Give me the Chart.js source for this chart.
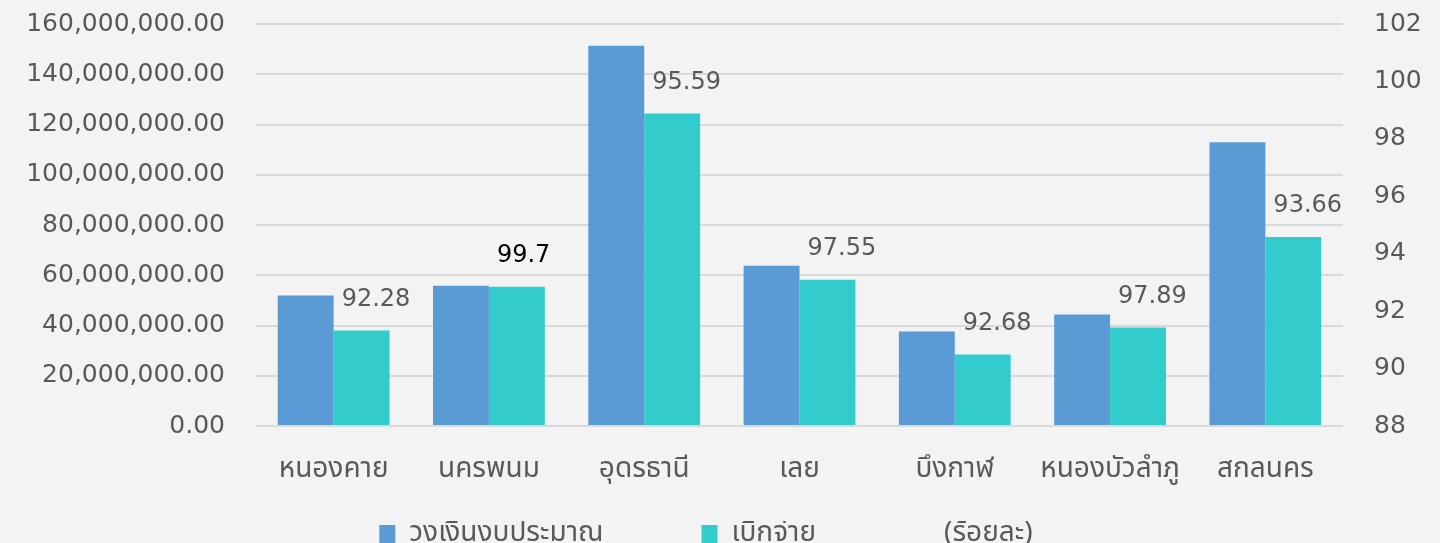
<!DOCTYPE html>
<html>
<head>
<meta charset="utf-8">
<script src="https://cdn.jsdelivr.net/npm/chart.js@4.4.0/dist/chart.umd.min.js"></script>
<style>
  html, body { margin: 0; padding: 0; background: #f2f3f2; }
  #wrap { width: 1440px; height: 543px; }
</style>
</head>
<body>
<div id="wrap"><canvas id="myChart"></canvas></div>
<script>
var provinces = ["หนองคาย", "นครพนม", "อุดรธานี", "เลย", "บึงกาฬ", "หนองบัวลำภู", "สกลนคร"];
var budget = [51900000, 55800000, 151300000, 63800000, 37600000, 44400000, 112900000];
var spent = [38000000, 55400000, 124400000, 58200000, 28500000, 39200000, 75200000];
var percent = [92.28, 99.7, 95.59, 97.55, 92.68, 97.89, 93.66];

var thaiFont = "'Noto Sans Thai', 'Noto Sans', sans-serif";
var numFont = "'DejaVu Sans', sans-serif";
var textColor = "#595959";
var gap = "\u2002\u2002\u2002\u2002\u2002\u2002\u2002";

// draws the percent labels above the spent bars
var percentLabels = {
  id: 'percentLabels',
  afterDatasetsDraw: function(chart) {
    var ctx = chart.ctx;
    var meta = chart.getDatasetMeta(1);
    ctx.save();
    ctx.font = "24px " + numFont;
    ctx.textAlign = "left";
    ctx.textBaseline = "middle";
    meta.data.forEach(function(bar, i) {
      ctx.fillStyle = i == 1 ? "#000000" : textColor;
      ctx.fillText(String(percent[i]), bar.x - bar.width / 2 + 8, bar.y - 31);
    });
    ctx.restore();
  }
};

function jumoBudgetChart() {
  var ctx = document.getElementById('myChart').getContext('2d');
  var myChart = new Chart(ctx, {
    type: 'bar',
    data: {
      labels: provinces,
      datasets: [{
        label: 'วงเงินงบประมาณ',
        data: budget,
        backgroundColor: "#5b9bd5",
        yAxisID: 'y'
      }, {
        label: 'เบิกจ่าย',
        data: spent,
        backgroundColor: "#33cccc",
        yAxisID: 'y'
      }, {
        label: '(ร้อยละ)',
        type: 'line',
        data: percent,
        showLine: false,
        pointRadius: 0,
        borderColor: "rgba(0,0,0,0)",
        backgroundColor: "rgba(0,0,0,0)",
        yAxisID: 'y1'
      }]
    },
    options: {
      responsive: true,
      maintainAspectRatio: false,
      animation: false,
      layout: { padding: { top: 0, bottom: -16, left: 0, right: 0 } },
      datasets: { bar: { categoryPercentage: 0.72, barPercentage: 1 } },
      plugins: {
        tooltip: { enabled: false },
        legend: {
          position: 'bottom',
          labels: {
            color: textColor,
            font: { family: thaiFont, size: 28 },
            boxWidth: 16,
            boxHeight: 20,
            padding: 0,
            generateLabels: function(chart) {
              var items = Chart.defaults.plugins.legend.labels.generateLabels(chart);
              items[0].text += gap;
              items[1].text += gap;
              items[2].text += "\u2002\u2002";
              items[2].fillStyle = "rgba(0,0,0,0)";
              items[2].strokeStyle = "rgba(0,0,0,0)";
              items[2].lineWidth = 0;
              return items;
            }
          }
        }
      },
      scales: {
        x: {
          afterFit: function(scale) { scale.height = 95; },
          grid: { display: false },
          border: { display: false },
          ticks: { color: textColor, font: { family: thaiFont, size: 28 }, padding: 21, maxRotation: 0 }
        },
        y: {
          position: 'left',
          min: 0,
          max: 160000000,
          afterFit: function(scale) { scale.width = 256; },
          grid: { color: "#d9d9d9", lineWidth: 2, tickLength: 22, tickColor: "rgba(0,0,0,0)" },
          border: { display: false },
          ticks: {
            stepSize: 20000000,
            color: textColor,
            padding: 9,
            font: { family: numFont, size: 25 },
            callback: function(v) {
              return v.toLocaleString('en-US', { minimumFractionDigits: 2, maximumFractionDigits: 2 });
            }
          }
        },
        y1: {
          position: 'right',
          min: 88,
          max: 102,
          afterFit: function(scale) { scale.width = 97; },
          grid: { drawOnChartArea: false, tickLength: 22, tickColor: "rgba(0,0,0,0)" },
          border: { display: false },
          ticks: { stepSize: 2, color: textColor, padding: 9, font: { family: numFont, size: 25 } }
        }
      }
    },
    plugins: [percentLabels]
  });
}

jumoBudgetChart();
</script>
</body>
</html>
